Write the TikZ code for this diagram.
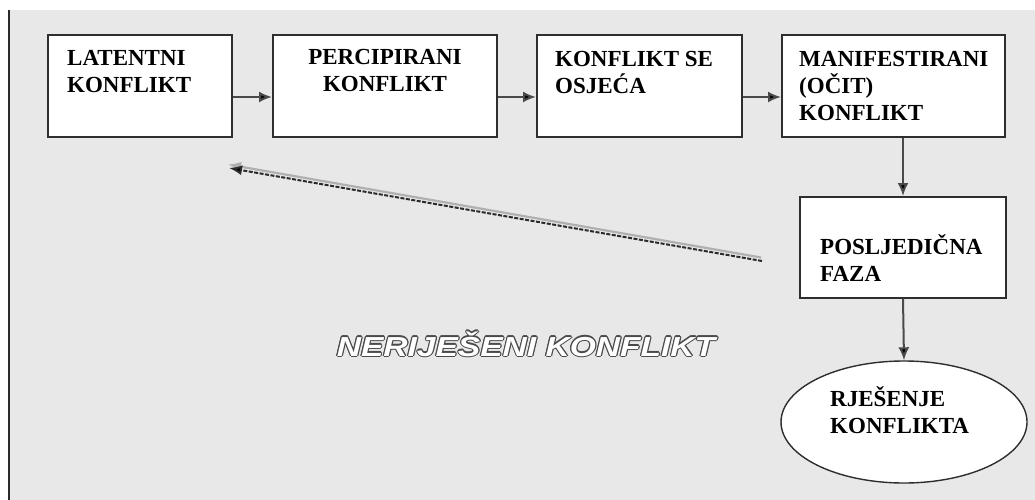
\documentclass[tikz,border=0pt]{standalone}
\usepackage{fontspec}
\setmainfont{Liberation Serif}
\newfontfamily\outfont{Liberation Sans}
\usetikzlibrary{arrows.meta,shapes.geometric}
\definecolor{panel}{HTML}{E8E8E8}
\definecolor{boxline}{HTML}{2E2E2E}
\definecolor{arrline}{HTML}{4A4A4A}
\definecolor{darkline}{HTML}{2A2A2A}
\definecolor{shadowline}{HTML}{B0B0B0}
\definecolor{outlinegray}{HTML}{4A4A4A}
\newcommand{\fst}{\rule{0pt}{22pt}}
\newcommand{\nktext}{\scalebox{1.22}[1]{\outfont\fontsize{27.5}{30}\selectfont\bfseries\itshape NERIJEŠENI KONFLIKT}}
\begin{document}
\begin{tikzpicture}[x=1pt,y=-1pt,
  box/.style={draw=boxline, line width=2pt, fill=white, inner sep=0pt},
  lbl/.style={anchor=north west, inner sep=0pt, align=left, text=black,
    font=\fontsize{23}{27}\selectfont\bfseries},
  arr/.style={draw=arrline, line width=2pt, -{Latex[length=13pt,width=11pt,fill=black]}},
  outl/.style={inner sep=0pt, anchor=base}]
\useasboundingbox (0,0) rectangle (1035,500);
\fill[panel] (10,10) rectangle (1035,500);
\draw[line width=2.2pt, darkline] (9,10) -- (9,500);

% boxes
\node[box, minimum width=184pt, minimum height=102pt] (b1) at (140,86) {};
\node[box, minimum width=224pt, minimum height=102pt] (b2) at (385,86) {};
\node[box, minimum width=205pt, minimum height=102pt] (b3) at (639.5,86) {};
\node[box, minimum width=223pt, minimum height=102pt] (b4) at (893.5,86) {};
\node[box, minimum width=206pt, minimum height=101pt] (b5) at (903,247.5) {};
\node[box, ellipse, line width=1.4pt, minimum width=246pt, minimum height=122pt] (e1) at (904,422) {};

% labels
\node[lbl] (t1) at (67,43.5) {\fst LATENTNI\\KONFLIKT};
\node[lbl, anchor=north, align=center] (t2) at (385,42) {\fst PERCIPIRANI\\KONFLIKT};
\node[lbl] (t3) at (555,44) {\fst KONFLIKT SE\\OSJEĆA};
\node[lbl] (t4) at (799,44.5) {\fst MANIFESTIRANI\\(OČIT)\\KONFLIKT};
\node[lbl] (t5) at (820,232) {\fst POSLJEDIČNA\\FAZA};
\node[lbl] (t6) at (830,384) {\fst RJEŠENJE\\KONFLIKTA};

% connectors
\draw[arr] ([yshift=-11pt]b1.east) -- ([yshift=-11pt]b2.west);
\draw[arr] ([yshift=-11pt]b2.east) -- ([yshift=-11pt]b3.west);
\draw[arr] ([yshift=-11pt]b3.east) -- ([yshift=-11pt]b4.west);
\draw[arr] (b5.north |- b4.south) -- (b5.north);
\draw[arr] (b5.south) -- (e1.north);

% feedback arrow (unresolved conflict)
\coordinate (fbs) at (762,261);
\coordinate (fbe) at (229,168);
\draw[shadowline, line width=2.2pt, -{Latex[length=13pt,width=10pt]}] ([shift={(-1,-3.5)}]fbs) -- ([shift={(-1,-3.5)}]fbe);
\draw[darkline, line width=2pt, dash pattern=on 4pt off 1.5pt, -{Latex[length=13pt,width=10pt,fill=black]}] (fbs) -- (fbe);

% outlined text
\foreach \dx/\dy [count=\i] in {1.2/0, -1.2/0, 0/1.2, 0/-1.2, 0.85/0.85, -0.85/0.85, 0.85/-0.85, -0.85/-0.85} {
  \node[outl, text=outlinegray] (ol\i) at (526+\dx,356+\dy) {\nktext};
}
\node[outl, text=white] (nk) at (526,356) {\nktext};
\end{tikzpicture}
\end{document}
